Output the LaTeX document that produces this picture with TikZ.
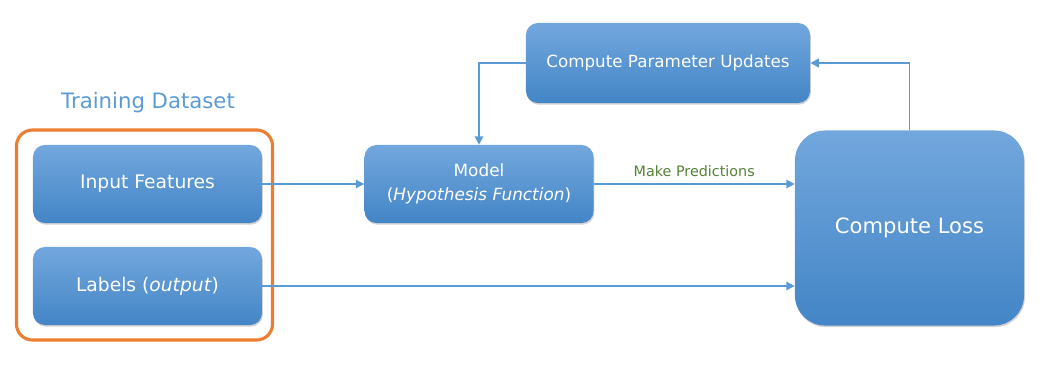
\documentclass[tikz,border=0pt]{standalone}
\usepackage{fontspec}
\setmainfont{DejaVu Sans}
\usepackage{tikz}
\usetikzlibrary{positioning,arrows.meta,shadows}

\definecolor{boxtop}{HTML}{72A7DD}
\definecolor{boxbot}{HTML}{4385C6}
\definecolor{flow}{HTML}{5B9BD5}
\definecolor{frame}{HTML}{ED7D31}
\definecolor{note}{HTML}{548235}

\tikzset{
  block/.style={rounded corners=0.3cm, top color=boxtop, bottom color=boxbot,
    text=white, align=center, font=\fontsize{13.3}{17.5}\selectfont,
    drop shadow={shadow xshift=0.6pt, shadow yshift=-1.2pt, opacity=0.35},
    minimum width=5.725cm, minimum height=1.95cm, inner sep=0pt},
  flowline/.style={draw=flow, line width=1.4pt, -{Triangle[width=6pt,length=6pt]}},
}

\begin{document}
\begin{tikzpicture}[x=0.025cm, y=-0.025cm]
    \useasboundingbox (0,0) rectangle (1051,370);

    % training data
    \node[draw=frame, line width=2.2pt, rounded corners=0.4cm,
      minimum width=6.4cm, minimum height=5.25cm] (dataset) at (144.5,235) {};
    \node[text=flow, font=\fontsize{15.1}{17}\selectfont] (title) at (148,103) {Training Dataset};
    \node[block] (features) at (147.5,184) {Input Features};
    \node[block] (labels) at (147.5,286) {Labels (\textit{output})};

    % model and loss
    \node[block, font=\fontsize{12}{17.5}\selectfont] (model) at (479,184)
      {Model\\(\textit{Hypothesis Function})};
    \node[block, minimum width=7.1cm, minimum height=2cm,
      font=\fontsize{11.9}{14}\selectfont] (update) at (668,63) {Compute Parameter Updates};
    \node[block, rounded corners=0.75cm, minimum height=4.875cm,
      font=\fontsize{15}{18}\selectfont] (loss) at (909.5,228) {Compute Loss};

    % connectors
    \draw[flowline] (features) -- (model);
    \draw[flowline] (labels.east) -- (labels.east -| loss.west);
    \draw[flowline] (model.east) -- node[above=1pt, text=note,
      font=\fontsize{10.2}{12}\selectfont] {Make Predictions} (model.east -| loss.west);
    \draw[flowline] (loss.north) |- (update.east);
    \draw[flowline] (update.west) -| (model.north);
\end{tikzpicture}
\end{document}
